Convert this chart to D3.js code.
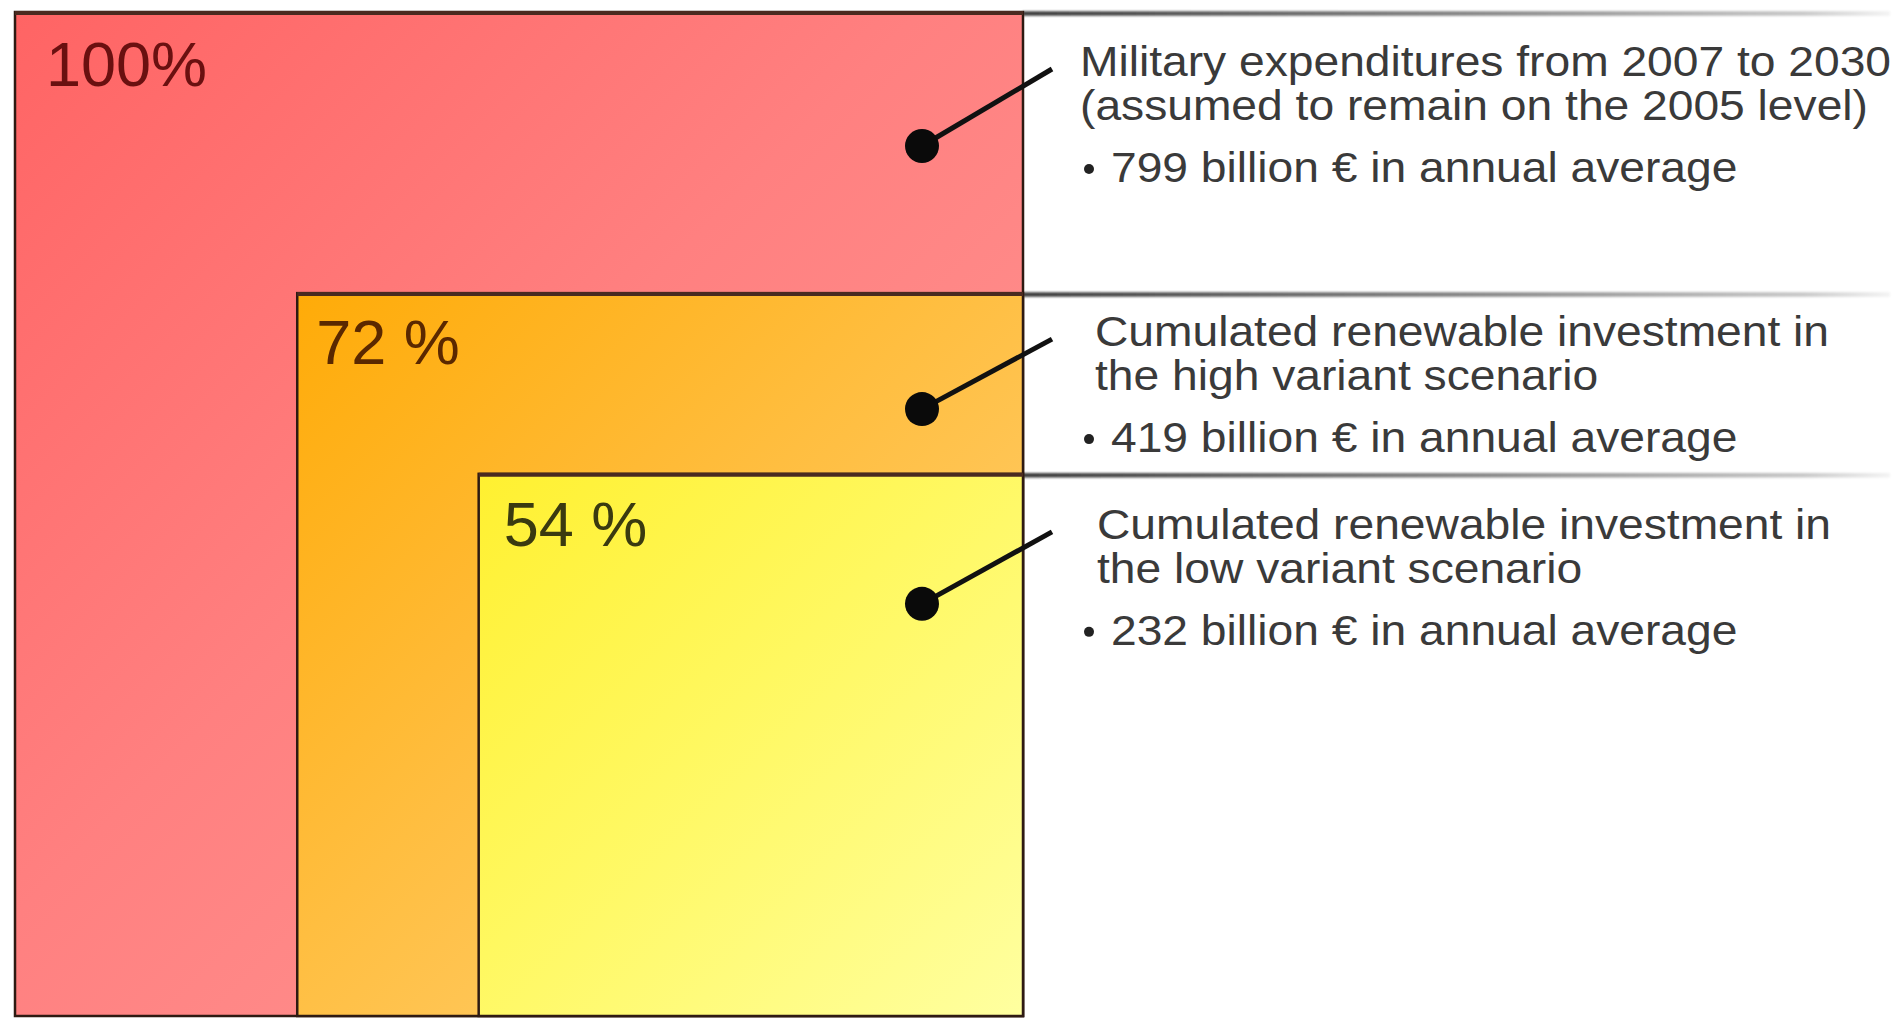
<!DOCTYPE html>
<html>
<head>
<meta charset="utf-8">
<script src="https://cdn.jsdelivr.net/npm/d3@7"></script>
<style>
html,body{margin:0;padding:0;background:#fff;}
svg{display:block;}
</style>
</head>
<body>
<svg id="chart" width="1902" height="1018"></svg>
<script>
// ---- data ----
const shareLabels = ["100%", "72 %", "54 %"];
const shares = [100, 72, 54];
const titleLine1 = [
  "Military expenditures from 2007 to 2030",
  "Cumulated renewable investment in",
  "Cumulated renewable investment in"
];
const titleLine2 = [
  "(assumed to remain on the 2005 level)",
  "the high variant scenario",
  "the low variant scenario"
];
const amounts = [799, 419, 232];
const amountUnit = "billion € in annual average";

// ---- layout / style (not data) ----
const W = 1902, H = 1018;
const right = 1023, bottom = 1016;
const fills = [
  ["#ff6464", "#ff8080", "#ff9a96"],
  ["#ffab08", "#ffbe40", "#ffd480"],
  ["#fff030", "#fff860", "#ffffa0"]
];
const labelColors = ["#6a1010", "#5a2800", "#3a3a10"];
const labelDx = [31, 19, 25];
const labelDy = [74, 71, 72];
const textX = [1080, 1095, 1097];
const firstBaseDy = [64, 53, 65];
const dotDy = [134, 116, 130];
const FONT = "Liberation Sans, Arial, sans-serif";

const svg = d3.select("#chart");
const defs = svg.append("defs");

const size = d3.scaleLinear().domain([0, 100]).range([0, right - 15]);
const sizeY = d3.scaleLinear().domain([0, 100]).range([0, bottom - 12]);

shares.forEach((s, i) => {
  const g = defs.append("linearGradient").attr("id", "g" + i)
    .attr("x1", "0").attr("y1", "0").attr("x2", "1").attr("y2", "1");
  g.append("stop").attr("offset", "0").attr("stop-color", fills[i][0]);
  g.append("stop").attr("offset", "0.45").attr("stop-color", fills[i][1]);
  g.append("stop").attr("offset", "1").attr("stop-color", fills[i][2]);
});
const lg = defs.append("linearGradient").attr("id", "fade")
  .attr("gradientUnits", "userSpaceOnUse")
  .attr("x1", right).attr("y1", 0).attr("x2", 1890).attr("y2", 0);
lg.append("stop").attr("offset", "0").attr("stop-color", "#3c3c3c");
lg.append("stop").attr("offset", "0.55").attr("stop-color", "#8a8a8a");
lg.append("stop").attr("offset", "0.9").attr("stop-color", "#c8c8c8");
lg.append("stop").attr("offset", "1").attr("stop-color", "#f4f4f4");
const blur = defs.append("filter").attr("id", "soft")
  .attr("filterUnits", "userSpaceOnUse")
  .attr("x", 0).attr("y", 0).attr("width", W).attr("height", H);
blur.append("feGaussianBlur").attr("stdDeviation", "1.3");

const rows = shares.map((s, i) => ({
  i, s,
  x: right - size(s),
  y: bottom - sizeY(s),
  w: size(s),
  h: sizeY(s)
}));

// horizontal divider lines extending to the right
svg.selectAll("line.div").data(rows).enter().append("line")
  .attr("class", "div")
  .attr("x1", right).attr("x2", 1890)
  .attr("y1", d => d.y + 1.5).attr("y2", d => d.y + 1.5)
  .attr("stroke", "url(#fade)").attr("stroke-width", 4.5)
  .attr("filter", "url(#soft)");

// rectangles
svg.selectAll("rect.box").data(rows).enter().append("rect")
  .attr("class", "box")
  .attr("x", d => d.x).attr("y", d => d.y)
  .attr("width", d => d.w).attr("height", d => d.h)
  .attr("fill", d => "url(#g" + d.i + ")")
  .attr("stroke", "#2e1a12").attr("stroke-width", 2.5);
// thicker top edge
svg.selectAll("line.top").data(rows).enter().append("line")
  .attr("x1", d => d.x).attr("x2", d => d.x + d.w)
  .attr("y1", d => d.y + 1).attr("y2", d => d.y + 1)
  .attr("stroke", "#4a2a20").attr("stroke-width", 4);

// percentage labels
svg.selectAll("text.pct").data(rows).enter().append("text")
  .attr("class", "pct")
  .attr("x", d => d.x + labelDx[d.i])
  .attr("y", d => d.y + labelDy[d.i])
  .attr("font-family", FONT)
  .attr("font-size", 63)
  .attr("fill", d => labelColors[d.i])
  .text(d => shareLabels[d.i]);

// leaders: dot + line, and descriptions
rows.forEach(d => {
  const base = d.y + firstBaseDy[d.i];
  const cx = 922, cy = d.y + dotDy[d.i];
  svg.append("line")
    .attr("x1", cx).attr("y1", cy)
    .attr("x2", 1052).attr("y2", base - 7)
    .attr("stroke", "#111").attr("stroke-width", 5);
  svg.append("circle").attr("cx", cx).attr("cy", cy).attr("r", 17).attr("fill", "#0a0a0a");

  const tx = textX[d.i];
  const t = svg.append("g")
    .attr("font-family", FONT)
    .attr("font-size", 42)
    .attr("fill", "#3a3a3a");
  const title = t.append("text")
    .attr("transform", `translate(${tx},${base}) scale(1.1,1)`);
  title.append("tspan").attr("x", 0).attr("y", 0).text(titleLine1[d.i]);
  title.append("tspan").attr("x", 0).attr("y", 44).text(titleLine2[d.i]);
  t.append("circle").attr("cx", 1089).attr("cy", base + 93).attr("r", 5).attr("fill", "#222");
  t.append("text")
    .attr("transform", `translate(1111,${base + 106}) scale(1.1,1)`)
    .text(amounts[d.i] + " " + amountUnit);
});
</script>
</body>
</html>
